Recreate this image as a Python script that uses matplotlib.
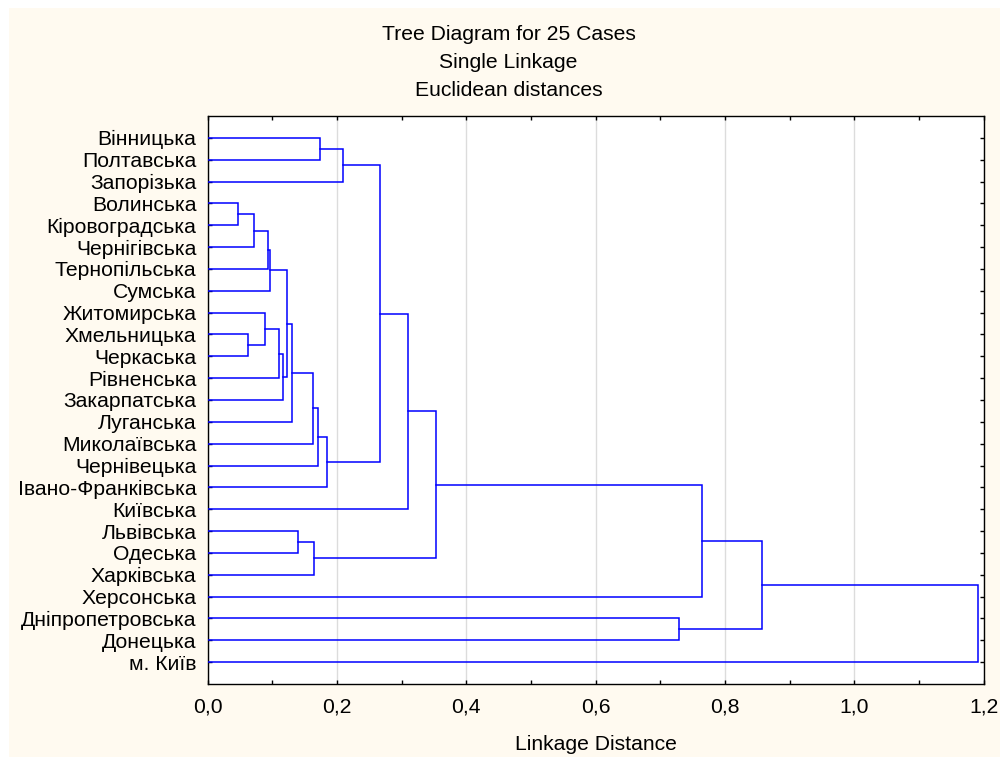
import numpy as np
import matplotlib
matplotlib.use("Agg")
import matplotlib.pyplot as plt
from matplotlib.patches import Rectangle
from matplotlib.ticker import MultipleLocator, FuncFormatter

plt.rcParams['font.family'] = ['Liberation Sans', 'DejaVu Sans']

# leaves, top to bottom
labels = ["Вінницька", "Полтавська", "Запорізька", "Волинська", "Кіровоградська",
          "Чернігівська", "Тернопільська", "Сумська", "Житомирська", "Хмельницька",
          "Черкаська", "Рівненська", "Закарпатська", "Луганська", "Миколаївська",
          "Чернівецька", "Івано-Франківська", "Київська", "Львівська", "Одеська",
          "Харківська", "Херсонська", "Дніпропетровська", "Донецька", "м. Київ"]

# merges: leaf ids 0..24, new clusters get ids 25, 26, ...
merge_left = [3, 9, 25, 8, 27, 29, 28, 31, 30, 33, 18, 34,
              35, 36, 0, 38, 39, 41, 42, 43, 22, 44, 46, 47]
merge_right = [4, 10, 5, 26, 6, 7, 11, 12, 32, 13, 19, 14,
               20, 15, 1, 16, 2, 40, 17, 37, 23, 21, 45, 24]
merge_height = [0.0467, 0.0633, 0.0725, 0.0885, 0.0936, 0.0967, 0.1106, 0.1168,
                0.1225, 0.1307, 0.140, 0.1632, 0.164, 0.1709, 0.174, 0.1855,
                0.210, 0.267, 0.310, 0.3535, 0.7293, 0.7646, 0.8577, 1.191]

n = len(labels)
node_x = {i: 0.0 for i in range(n)}
node_y = {i: i + 1.0 for i in range(n)}

fig = plt.figure(figsize=(10, 7.58), dpi=100, facecolor='white')
fig.patches.append(Rectangle((9 / 1000, 1 / 758), 991 / 1000, 749 / 758,
                             transform=fig.transFigure, facecolor='#fffaf0',
                             edgecolor='none', zorder=-10))
ax = fig.add_axes([0.2075, 0.0976, 0.7762, 0.7494])
ax.set_facecolor('white')

for k, (a, b, h) in enumerate(zip(merge_left, merge_right, merge_height)):
    xs = [node_x[a], h, h, node_x[b]]
    ys = [node_y[a], node_y[a], node_y[b], node_y[b]]
    ax.plot(xs, ys, color='#0000ff', lw=1.1, solid_joinstyle='miter', zorder=3)
    node_x[n + k] = h
    node_y[n + k] = (node_y[a] + node_y[b]) / 2

ax.set_xlim(0, 1.2)
ax.set_ylim(n + 1, 0)
ax.set_yticks(np.arange(1, n + 1))
ax.set_yticklabels(labels)
ax.xaxis.set_major_locator(MultipleLocator(0.2))
ax.xaxis.set_minor_locator(MultipleLocator(0.1))
ax.xaxis.set_major_formatter(FuncFormatter(lambda v, p: f"{v:.1f}".replace('.', ',')))
ax.grid(True, axis='x', which='major', color='#dcdcdc', lw=1.0, zorder=0)

ax.tick_params(axis='both', which='both', direction='in', length=3, width=1,
               color='black', labelsize=15.2, top=True, right=True)
ax.tick_params(axis='y', pad=8)
ax.tick_params(axis='x', pad=10)
for s in ax.spines.values():
    s.set_linewidth(1.0)
    s.set_color('black')

ax.set_xlabel("Linkage Distance", fontsize=15.2, labelpad=13)

title_lines = ["Tree Diagram for 25 Cases", "Single Linkage", "Euclidean distances"]
for i, t in enumerate(title_lines):
    fig.text(0.5085, 1 - (40 + 28 * i) / 758, t, ha='center', va='baseline', fontsize=15.2)

fig.savefig("out.png", dpi=100)
